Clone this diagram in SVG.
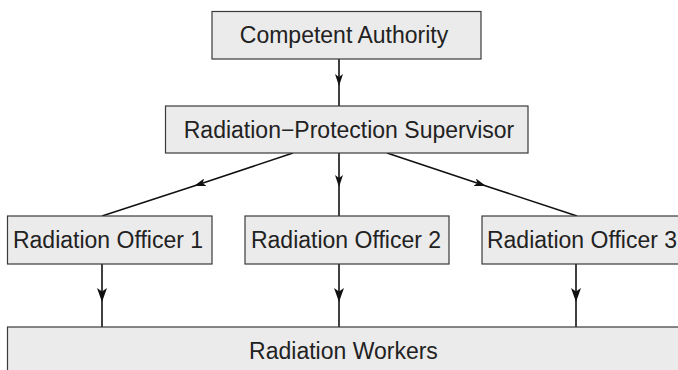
<svg xmlns="http://www.w3.org/2000/svg" width="678" height="370" viewBox="0 0 678 370">
<defs>
<style>
.box{fill:#ebebeb;stroke:#3a3a3a;stroke-width:1.2}
.lbl{font-family:"Liberation Sans",Arial,sans-serif;font-size:23px;fill:#222;text-anchor:middle}
.con{fill:none;stroke:#111;stroke-width:1.6}
.a1{marker-mid:url(#ah)}
.a2{marker-mid:url(#ahL)}
</style>
<marker id="ah" viewBox="0 0 12 8" refX="12" refY="4" markerWidth="12" markerHeight="8" markerUnits="userSpaceOnUse" orient="auto">
<path d="M0,0 L12,4 L0,8 L3,4 Z" fill="#111"/>
</marker>
<marker id="ahL" viewBox="0 0 14 10" refX="14" refY="5" markerWidth="14" markerHeight="10" markerUnits="userSpaceOnUse" orient="auto">
<path d="M0,0 L14,5 L0,10 L3.5,5 Z" fill="#111"/>
</marker>
</defs>
<g id="connectors">
<path class="con a1" d="M339,59 L339,86 L339,106"/>
<path class="con a1" d="M339,153 L339,187 L339,216"/>
<path class="con a1" d="M293,153 L194,186 L102,216"/>
<path class="con a1" d="M387,153 L486,186 L577,216"/>
<path class="con a2" d="M102,264 L102,302 L102,327"/>
<path class="con a2" d="M339,264 L339,302 L339,327"/>
<path class="con a2" d="M576,264 L576,302 L576,327"/>
</g>
<g id="competent-authority">
<rect class="box" x="212" y="11.5" width="269" height="47.5"/>
<text class="lbl" x="344" y="43">Competent Authority</text>
</g>
<g id="supervisor">
<rect class="box" x="165.5" y="106" width="362.5" height="47"/>
<text class="lbl" x="349" y="138">Radiation−Protection Supervisor</text>
</g>
<g id="officer-1">
<rect class="box" x="7.5" y="216" width="204.5" height="48"/>
<text class="lbl" x="108" y="248">Radiation Officer 1</text>
</g>
<g id="officer-2">
<rect class="box" x="245" y="216" width="204" height="48"/>
<text class="lbl" x="346" y="248">Radiation Officer 2</text>
</g>
<g id="officer-3">
<rect class="box" x="482" y="216" width="206" height="48"/>
<text class="lbl" x="582" y="248">Radiation Officer 3</text>
</g>
<g id="radiation-workers">
<rect class="box" x="7.5" y="327" width="680" height="60"/>
<text class="lbl" x="343.5" y="359">Radiation Workers</text>
</g>
</svg>
